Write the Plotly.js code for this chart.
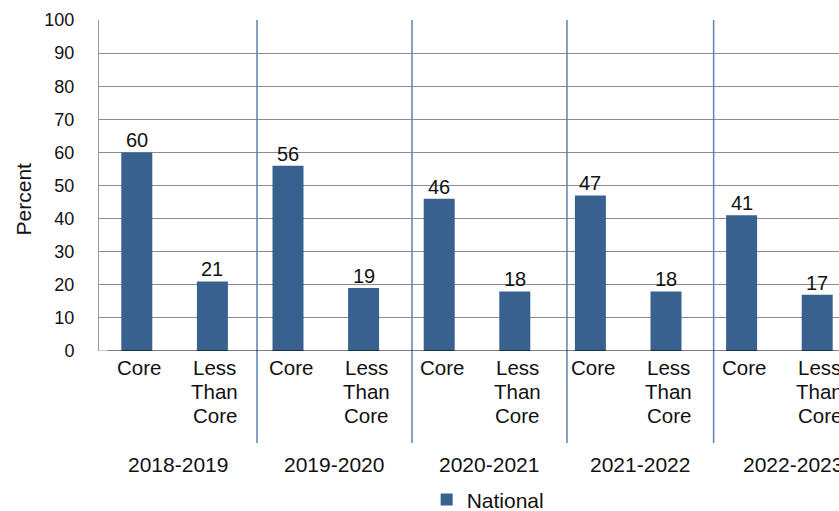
<!DOCTYPE html>
<html>
<head>
<meta charset="utf-8">
<script src="https://cdn.plot.ly/plotly-3.0.1.min.js"></script>
<style>
html, body { margin: 0; padding: 0; overflow: hidden; background: #fff; }
#chart { width: 900px; height: 540px; }
</style>
</head>
<body>
<div id="chart"></div>
<script>
// Data
const years = ["2018-2019", "2019-2020", "2020-2021", "2021-2022", "2022-2023"];
const categories = ["Core", "Less<br>Than<br>Core"];
const coreValues = [60, 56, 46, 47, 41];
const lessThanCoreValues = [21, 19, 18, 18, 17];
const seriesName = "National";

// Build interleaved bar values
const xIdx = [], yVals = [], labels = [];
years.forEach((y, i) => {
  xIdx.push(2 * i);     yVals.push(coreValues[i]);         labels.push(categories[0]);
  xIdx.push(2 * i + 1); yVals.push(lessThanCoreValues[i]); labels.push(categories[1]);
});

const FONT = "Liberation Sans, Arial, sans-serif";
const TXT = "#111";
const barColor = "#386190";
const sepColor = "#5d80b4";

// Group separator positions (category-index units) and year-label centres
const seps = [1.59, 3.64, 5.69, 7.63];
const bounds = [-0.5].concat(seps).concat([9.72]);

const shapes = seps.map(s => ({
  type: "line", xref: "x", yref: "paper", x0: s, x1: s, y0: -0.278, y1: 1,
  line: { color: sepColor, width: 1.5 }
}));
// black category-axis line and short grey stub at zero
shapes.push({ type: "line", xref: "paper", yref: "y", x0: 0.0106, x1: 1, y0: 0, y1: 0,
  line: { color: "#000", width: 1.2 } });
shapes.push({ type: "line", xref: "paper", yref: "y", x0: 0, x1: 0.0106, y0: 0, y1: 0,
  line: { color: "#9a9a9a", width: 1 } });

const annotations = [];
// value labels above bars
xIdx.forEach((xi, k) => {
  annotations.push({
    xref: "x", yref: "y", x: xi, y: yVals[k], yanchor: "bottom", xanchor: "center",
    yshift: -1, text: String(yVals[k]), showarrow: false,
    font: { family: FONT, size: 20, color: TXT }
  });
});
// category labels, one annotation per line for tight line spacing
xIdx.forEach((xi, k) => {
  labels[k].split("<br>").forEach((line, j) => {
    annotations.push({
      xref: "x", yref: "paper", x: xi, y: 0, xshift: 2.5,
      yanchor: "middle", yshift: -(16 + 24 * j),
      text: line, showarrow: false, xanchor: "center",
      font: { family: FONT, size: 20.5, color: TXT }
    });
  });
});
// year labels
years.forEach((y, i) => {
  annotations.push({
    xref: "x", yref: "paper", x: (bounds[i] + bounds[i + 1]) / 2, y: 0,
    yshift: -113.5, text: y, showarrow: false, xanchor: "center", yanchor: "middle",
    font: { family: FONT, size: 21, color: TXT }
  });
});
annotations.push({
  xref: "paper", yref: "paper", x: -0.1005, y: 0.458, text: "Percent",
  textangle: -90, showarrow: false, xanchor: "center", yanchor: "middle",
  font: { family: FONT, size: 21, color: TXT }
});

const trace = {
  type: "bar", x: xIdx, y: yVals, name: seriesName,
  marker: { color: barColor }, width: 0.41,
  showlegend: true
};

const layout = {
  width: 900, height: 540,
  margin: { l: 99, r: 45, t: 20, b: 189 },
  paper_bgcolor: "#fff", plot_bgcolor: "#fff",
  font: { family: FONT, size: 20, color: TXT },
  xaxis: {
    range: [-0.5, 9.5], showticklabels: false, automargin: false,
    showgrid: false, zeroline: false, showline: false,
    ticks: "", fixedrange: true
  },
  yaxis: {
    range: [0, 100], dtick: 10, showgrid: true, gridcolor: "#8c8c8c", gridwidth: 1,
    zeroline: false, showline: true, linecolor: "#9a9a9a", linewidth: 1, automargin: false,
    ticks: "", ticklabelstandoff: 20, tickfont: { family: FONT, size: 18, color: TXT }, fixedrange: true
  },
  showlegend: true,
  legend: {
    orientation: "h", x: 0.4334, y: -0.45, xanchor: "left", yanchor: "middle",
    font: { family: FONT, size: 21, color: TXT }
  },
  bargap: 0.59,
  shapes: shapes,
  annotations: annotations
};

Plotly.newPlot("chart", [trace], layout, { displayModeBar: false, staticPlot: true });
</script>
</body>
</html>
